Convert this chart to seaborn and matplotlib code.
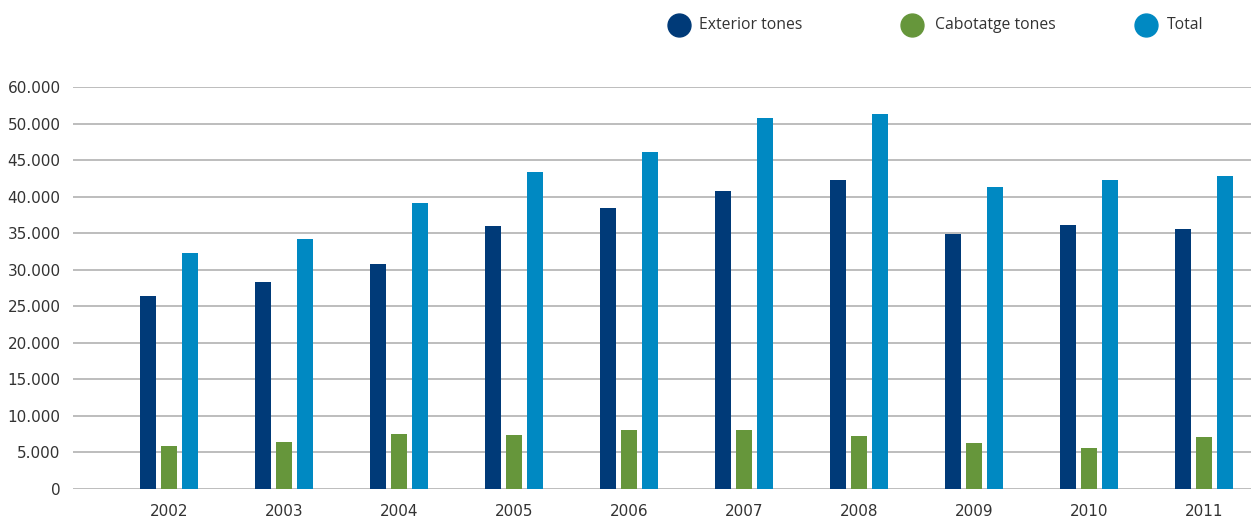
import matplotlib
matplotlib.use("Agg")
import matplotlib.pyplot as plt
from matplotlib.lines import Line2D
import seaborn as sns
import pandas as pd
import numpy as np

years = ["2002", "2003", "2004", "2005", "2006", "2007", "2008", "2009", "2010", "2011"]
exterior = [26450, 28360, 30830, 36020, 38490, 40810, 42320, 34930, 36160, 35610]
cabotatge = [5930, 6480, 7570, 7430, 8120, 8120, 7300, 6340, 5650, 7160]
total = [32330, 34250, 39170, 43410, 46150, 50800, 51350, 41360, 42320, 42860]
series_names = ["Exterior tones", "Cabotatge tones", "Total"]
series_colors = ["#003a78", "#66963b", "#0089c2"]
ytick_values = [0, 5000, 10000, 15000, 20000, 25000, 30000, 35000, 40000, 45000, 50000, 55000]
ytick_labels = ["0", "5.000", "10.000", "15.000", "20.000", "25.000", "30.000",
                "35.000", "40.000", "45.000", "50.000", "60.000"]

df = pd.DataFrame({
    "year": years * 3,
    "series": [series_names[0]] * 10 + [series_names[1]] * 10 + [series_names[2]] * 10,
    "value": exterior + cabotatge + total,
})

sns.set_theme(style="white")
plt.rcParams["font.family"] = ["Open Sans", "DejaVu Sans"]

fig = plt.figure(figsize=(12.51, 5.19), dpi=100)
ax = fig.add_axes([0.0584, 0.0578, 0.9416, 0.7746])

sns.barplot(data=df, x="year", y="value", hue="series", hue_order=series_names,
            palette=series_colors, saturation=1, width=0.55, gap=0.24,
            linewidth=0, legend=False, errorbar=None, ax=ax, zorder=3)

ax.set_ylim(0, 55000)
ax.set_xlim(-0.835, 9.41)
ax.set_yticks(ytick_values)
ax.set_yticklabels(ytick_labels)
ax.grid(axis="y", color="#b8b8b8", linewidth=1.3, zorder=0)
ax.grid(axis="x", visible=False)
ax.set_axisbelow(True)
for s in ax.spines.values():
    s.set_visible(False)
ax.set_xlabel("")
ax.set_ylabel("")
ax.tick_params(axis="both", length=0, labelsize=11, labelcolor="#333333")
ax.tick_params(axis="y", pad=9)
ax.tick_params(axis="x", pad=11)
for lab in ax.get_xticklabels() + ax.get_yticklabels():
    lab.set_family(["DejaVu Sans"])

# legend
lx = [0.5428, 0.729, 0.916]
tx = [0.5588, 0.7474, 0.9329]
for i, name in enumerate(series_names):
    fig.add_artist(Line2D([lx[i]], [0.952], marker="o", markersize=16.5,
                          color=series_colors[i], linestyle="none",
                          transform=fig.transFigure))
    fig.text(tx[i], 0.952, name, ha="left", va="center", fontsize=11.3, color="#333333")

fig.savefig("out.png", dpi=100)
